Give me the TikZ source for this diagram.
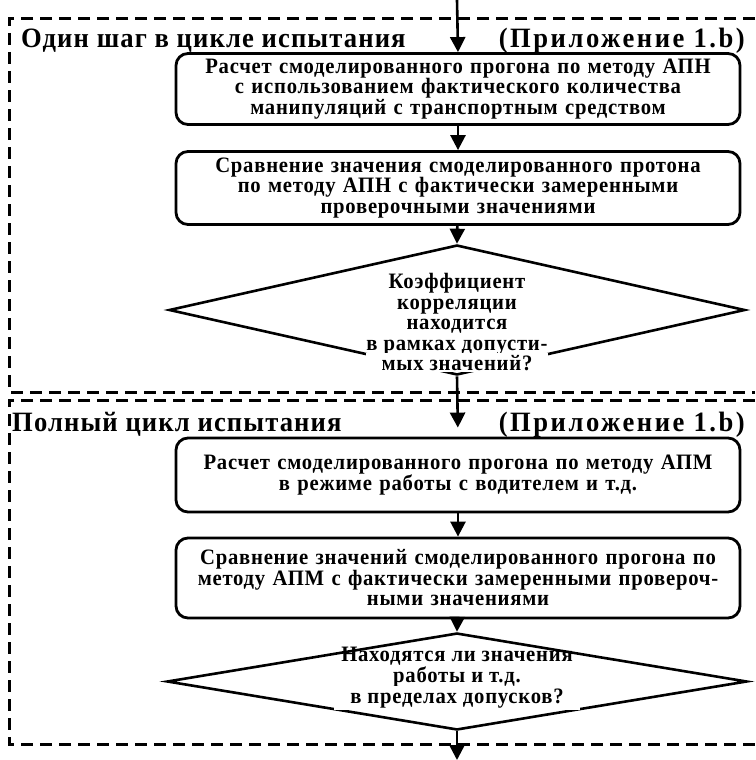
\documentclass[tikz,border=0pt]{standalone}
\usepackage{fontspec}
\setmainfont{Liberation Serif}
\newfontfamily\boxfont{Liberation Serif}[FakeStretch=0.94, LetterSpace=3.5]
\newfontfamily\headfont{Liberation Serif}[FakeStretch=0.95, LetterSpace=4]
\newfontfamily\refheadfont{Liberation Serif}[FakeStretch=0.95, LetterSpace=9]
\usetikzlibrary{arrows.meta,shapes.geometric}

\tikzset{
  stepbox/.style={draw, line width=2.8pt, rounded corners=12pt,
    minimum width=564pt, text width=555pt, align=center, inner sep=0pt,
    font=\boxfont\fontsize{22}{20.5}\selectfont\bfseries},
  decision/.style={draw, diamond, line width=2.6pt, inner sep=0pt},
  decisiontext/.style={align=center, inner sep=0pt,
    font=\boxfont\fontsize{22}{20.5}\selectfont\bfseries},
  lastline/.style={decisiontext, fill=white, inner xsep=16pt, inner ysep=2pt},
  heading/.style={inner sep=0pt,
    font=\headfont\fontsize{28}{28}\selectfont\bfseries},
  refheading/.style={inner sep=0pt,
    font=\refheadfont\fontsize{28}{28}\selectfont\bfseries},
  flow/.style={line width=2.6pt, -{Triangle[length=15pt,width=15pt]}},
  frame/.style={line width=3pt, dash pattern=on 12pt off 7pt},
}

\begin{document}
\begin{tikzpicture}[x=1pt, y=-1pt]
\useasboundingbox (0,0) rectangle (755,760);

% dashed frames of the two test stages
\draw[frame] (755,19) -- (9,19) -- (9,392) -- (755,392);
\draw[frame] (755,400) -- (9,400) -- (9,744) -- (755,744);

% one step of the test cycle
\node[heading, anchor=base west] (t1) at (21,48) {Один шаг в цикле испытания};
\node[refheading, anchor=base east] (t1r) at (745,48) {(Приложение 1.b)};

\node[stepbox, minimum height=71pt] (b1) at (458,89)
  {Расчет смоделированного прогона по методу АПН\\
   с использованием фактического количества\\
   манипуляций с транспортным средством};
\node[stepbox, minimum height=73pt] (b2) at (458,188)
  {Сравнение значения смоделированного протона\\
   по методу АПН с фактически замеренными\\
   проверочными значениями};
\node[decision, minimum width=576pt, minimum height=130pt] (d1) at (457,310) {};
% the base anchor of a multi-line node sits on its last line
\node[decisiontext, anchor=base] (d1t) at (457,350)
  {Коэффициент\\корреляции\\находится\\в рамках допусти-};
\node[lastline, anchor=base] (d1b) at (457,370) {мых значений?};

% full test cycle
\node[heading, anchor=base west] (t2) at (12,431) {Полный цикл испытания};
\node[refheading, anchor=base east] (t2r) at (745,431) {(Приложение 1.b)};

\node[stepbox, minimum height=74pt] (b3) at (458,475)
  {Расчет смоделированного прогона по методу АПМ\\
   в режиме работы с водителем и т.д.};
\node[stepbox, minimum height=80pt] (b4) at (458,578)
  {Сравнение значений смоделированного прогона по\\
   методу АПМ с фактически замеренными провероч-\\
   ными значениями};
\node[decision, minimum width=580pt, minimum height=97pt] (d2) at (457,681.5) {};
\node[decisiontext, anchor=base] (d2t) at (457,682)
  {Находятся ли значения\\работы и т.д.};
\node[lastline, anchor=base] (d2b) at (457,703) {в пределах допусков?};

% connectors
\coordinate (in) at (457,0);
\coordinate (out) at (457,760);
\draw[flow] (in) -- (b1.north);
\draw[flow] (b1) -- (b2);
\draw[flow] (b2) -- (d1.north);
\draw[flow, shorten >=9pt] (d1.south) -- (b3.north);
\draw[flow] (b3) -- (b4);
\draw[flow] (b4) -- (d2.north);
\draw[flow] (d2.south) -- (out);
\end{tikzpicture}
\end{document}
